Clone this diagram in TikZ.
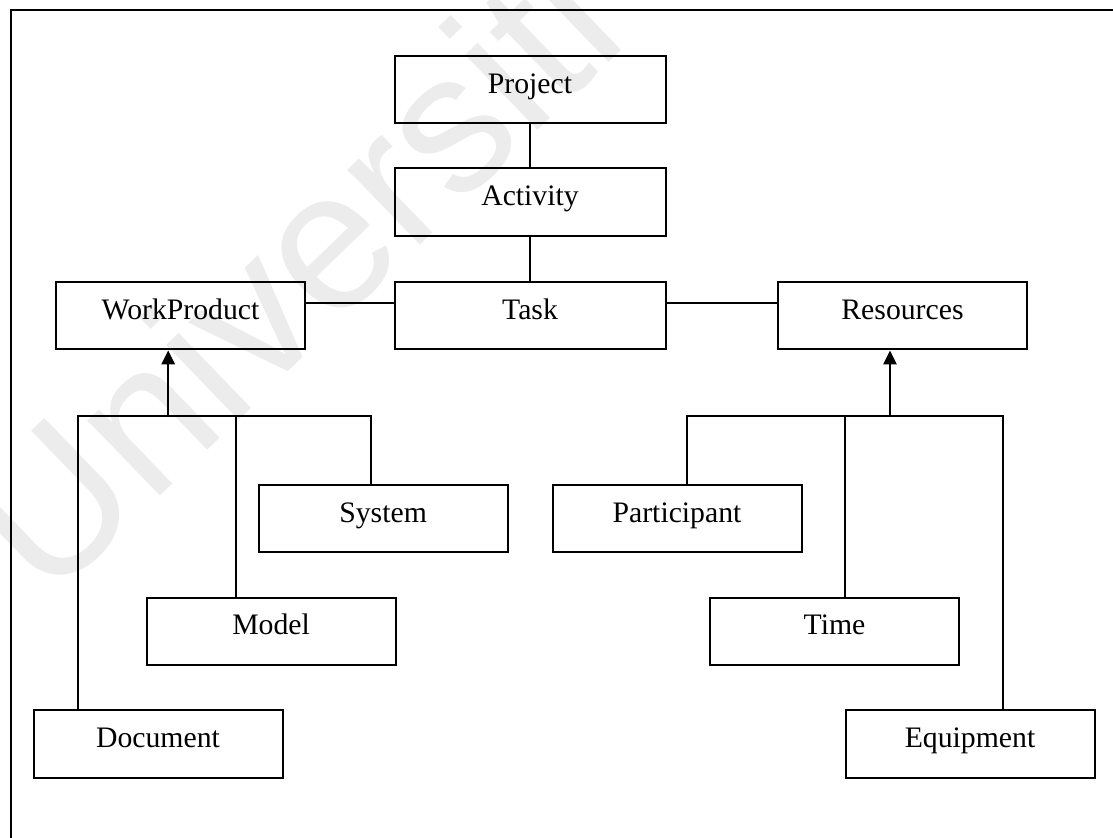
\documentclass[tikz,border=0pt]{standalone}
\usepackage{fontspec}
\setmainfont{Liberation Serif}
\newfontfamily\wmfont{Liberation Sans}
\usetikzlibrary{arrows.meta,calc}
\definecolor{wmgray}{RGB}{236,236,236}
\begin{document}
\begin{tikzpicture}[x=0.75pt,y=-0.75pt,
  entity/.style={draw, line width=1.5pt, anchor=north west, inner sep=0pt,
    minimum height=50.6pt, minimum width=186.75pt,
    font=\fontsize{22.3}{26}\selectfont, text height=11.25pt, text depth=6pt},
  wide/.style={entity, minimum width=203.25pt},
  link/.style={line width=1.5pt},
  isa/.style={link, -{Triangle[length=10.5pt,width=10pt]}},
  watermark/.style={rotate=44, anchor=west, inner sep=0pt, text=wmgray,
    font=\wmfont\fontsize{148}{148}\selectfont}
]
\useasboundingbox (0,0) rectangle (1113,838);
\fill[white] (0,0) rectangle (1113,838);
\clip (0,0) rectangle (1113,838);

% background watermark
\node[watermark] (wm) at (12,568) {Universiti Malaya};

% page frame
\draw[line width=1.6pt] (10.7,900) -- (10.7,10) -- (1200,10);

% classes
\node[wide]   (proj)  at (393.5,55)    {Project};
\node[wide]   (act)   at (393.5,167.5) {Activity};
\node[wide]   (task)  at (393.5,281)   {Task};
\node[entity] (wp)    at (55,281)      {WorkProduct};
\node[entity] (res)   at (777,281)     {Resources};
\node[entity] (sys)   at (257.6,484)   {System};
\node[entity] (part)  at (551.5,484)   {Participant};
\node[entity] (model) at (145.6,596.7) {Model};
\node[entity] (time)  at (709,596.7)   {Time};
\node[entity] (doc)   at (32.5,709.3)  {Document};
\node[entity] (equip) at (844.5,709.3) {Equipment};

% associations
\coordinate (row) at (0,303);
\draw[link] (proj) -- (act);
\draw[link] (act) -- (task);
\draw[link] (wp.east |- row) -- (task.west |- row);
\draw[link] (task.east |- row) -- (res.west |- row);

% work product specialisations
\coordinate (lbL) at (77.5,416);
\coordinate (lbA) at (168.2,416);
\coordinate (lbM) at (235.6,416);
\coordinate (lbR) at (370.5,416);
\draw[isa] (lbA) -- (lbA |- wp.south);
\draw[link] (lbL |- doc.north) -- (lbL) -- (lbR) -- (lbR |- sys.north);
\draw[link] (lbM) -- (lbM |- model.north);

% resource specialisations
\coordinate (rbL) at (687,416);
\coordinate (rbA) at (890,416);
\coordinate (rbM) at (844.6,416);
\coordinate (rbR) at (1002.8,416);
\draw[isa] (rbA) -- (rbA |- res.south);
\draw[link] (rbL |- part.north) -- (rbL) -- (rbR) -- (rbR |- equip.north);
\draw[link] (rbM) -- (rbM |- time.north);
\end{tikzpicture}
\end{document}
